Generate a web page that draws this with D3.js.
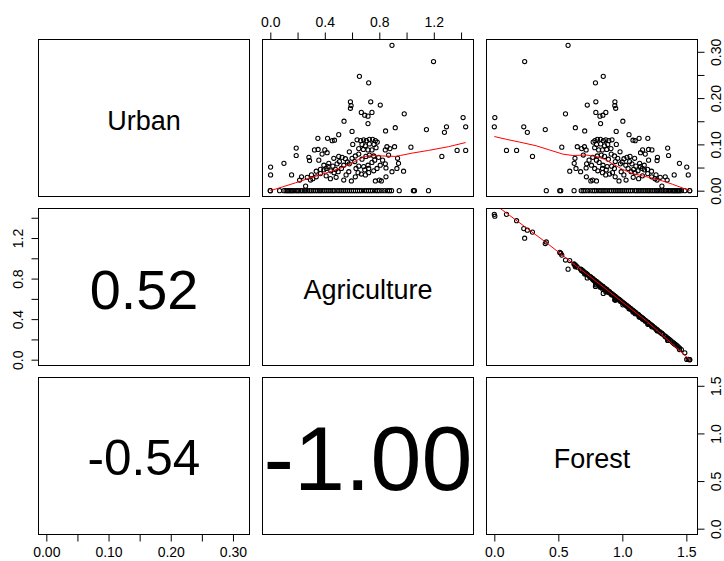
<!DOCTYPE html>
<html>
<head>
<meta charset="utf-8">
<script src="https://cdn.jsdelivr.net/npm/d3@7"></script>
<style>
  html, body { margin: 0; padding: 0; background: #fff; }
  svg { display: block; }
  text { font-family: "Liberation Sans", Arial, Helvetica, sans-serif; }
</style>
</head>
<body>
<svg id="chart" width="724" height="561"></svg>
<script>
// Land-use shares (arcsine-square-root transformed), one entry per site.
const variableNames = ["Urban", "Agriculture", "Forest"];

const urban = [
  0.314, 0.279, 0.247, 0.233, 0.192, 0.184, 0.178, 0.192, 0.185, 0.169,
  0.163, 0.161, 0.169, 0.150, 0.145, 0.166, 0.158, 0.138, 0.138, 0.126,
  0.132, 0.136, 0.129, 0.128, 0.121, 0.113, 0.113, 0.108, 0.109, 0.110,
  0.108, 0.110, 0.108, 0.111, 0.111, 0.108, 0.105, 0.100, 0.097, 0.101,
  0.100, 0.093, 0.091, 0.089, 0.088, 0.088, 0.100, 0.084, 0.095, 0.091,
  0.095, 0.077, 0.094, 0.087, 0.087, 0.074, 0.092, 0.076, 0.059, 0.051,
  0.034, 0.034, 0.072, 0.065, 0.088, 0.089, 0.079, 0.088, 0.082, 0.066,
  0.055, 0.048, 0.059, 0.053, 0.046, 0.070, 0.074, 0.072, 0.069, 0.062,
  0.058, 0.063, 0.055, 0.058, 0.043, 0.039, 0.041, 0.048, 0.070, 0.075,
  0.079, 0.063, 0.068, 0.074, 0.077, 0.075, 0.072, 0.066, 0.058, 0.055,
  0.048, 0.043, 0.039, 0.034, 0.036, 0.039, 0.030, 0.021, 0.023, 0.029,
  0.026, 0.032, 0.070, 0.048, 0.042, 0.059, 0.030, 0.021, 0.021, 0.023,
  0.010, 0.023, 0.030, 0.034, 0.026, 0.030, 0.023, 0.029, 0.037, 0.045,
  0.052, 0.042, 0.046, 0.052, 0.055, 0.061, 0.053, 0.041, 0.034, 0.088,
  0.049, 0.041, 0.066, 0.048, 0.048, 0.045,
  // sites without urban cover
  0, 0, 0, 0, 0, 0, 0, 0, 0, 0, 0, 0, 0, 0, 0, 0, 0, 0, 0, 0,
  0, 0, 0, 0, 0, 0, 0, 0, 0, 0, 0, 0, 0, 0, 0, 0, 0, 0, 0, 0,
  0, 0, 0, 0, 0, 0, 0, 0, 0, 0, 0, 0, 0, 0, 0, 0, 0, 0, 0, 0,
  0, 0, 0
];

const agriculture = [
  0.893, 1.198, 0.654, 0.722, 0.588, 0.593, 0.588, 0.737, 0.807, 0.668,
  0.693, 0.717, 0.746, 0.541, 0.717, 0.983, 1.415, 1.434, 1.293, 1.278,
  1.146, 0.917, 0.846, 0.600, 0.502, 0.349, 0.420, 0.454, 0.471, 0.637,
  0.663, 0.685, 0.705, 0.727, 0.751, 0.771, 0.785, 0.673, 0.698, 0.727,
  0.761, 0.776, 0.649, 0.683, 0.717, 0.746, 0.605, 0.580, 0.856, 0.878,
  0.912, 0.868, 1.032, 1.371, 1.434, 1.259, 0.190, 0.190, 0.100, 0.002,
  0.002, 0.156, 0.283, 0.288, 0.324, 0.351, 0.380, 0.400, 0.417, 0.356,
  0.393, 0.410, 0.429, 0.459, 0.478, 0.466, 0.502, 0.527, 0.551, 0.566,
  0.580, 0.507, 0.539, 0.490, 0.444, 0.468, 0.498, 0.522, 0.600, 0.624,
  0.649, 0.620, 0.673, 0.702, 0.727, 0.759, 0.795, 0.824, 0.844, 0.807,
  0.783, 0.759, 0.722, 0.698, 0.668, 0.644, 0.624, 0.595, 0.539, 0.483,
  0.441, 0.410, 0.934, 0.929, 0.978, 0.941, 0.849, 0.815, 0.771, 0.800,
  0.259, 0.215, 0.229, 0.302, 0.312, 0.337, 0.295, 0.271, 0.368, 0.393,
  0.424, 0.337, 0.368, 0.685, 0.717, 0.746, 0.649, 0.576, 0.556, 0.844,
  0.849, 0.893, 0.766, 0.722, 0.629, 0.693,
  0.000, 0.000, 0.068, 0.100, 0.115, 0.125, 0.135, 0.145, 0.155, 0.165,
  0.175, 0.190, 0.200, 0.210, 0.225, 0.235, 0.250, 0.260, 0.275, 0.290,
  0.300, 0.315, 0.330, 0.345, 0.360, 0.370, 0.385, 0.400, 0.415, 0.430,
  0.445, 0.460, 0.470, 0.490, 0.505, 0.520, 0.535, 0.550, 0.565, 0.580,
  0.595, 0.610, 0.625, 0.640, 0.655, 0.670, 0.690, 0.705, 0.720, 0.735,
  0.750, 0.770, 0.785, 0.800, 0.820, 0.840, 0.860, 0.875, 0.890, 0.946,
  1.050, 1.058, 1.161
];

const forest = [
  0.576, 0.237, 0.851, 0.790, 0.942, 0.941, 0.948, 0.793, 0.726, 0.871,
  0.848, 0.825, 0.793, 1.004, 0.830, 0.556, 0.004, 0.000, 0.230, 0.258,
  0.398, 0.633, 0.706, 0.952, 1.052, 1.199, 1.131, 1.100, 1.083, 0.919,
  0.894, 0.871, 0.852, 0.829, 0.805, 0.786, 0.772, 0.886, 0.861, 0.831,
  0.798, 0.784, 0.911, 0.878, 0.844, 0.815, 0.953, 0.982, 0.704, 0.682,
  0.648, 0.695, 0.527, 0.174, 0.095, 0.298, 1.354, 1.361, 1.446, 1.503,
  1.515, 1.405, 1.274, 1.271, 1.231, 1.205, 1.179, 1.158, 1.142, 1.205,
  1.171, 1.155, 1.135, 1.106, 1.088, 1.096, 1.060, 1.036, 1.013, 0.999,
  0.985, 1.057, 1.027, 1.075, 1.122, 1.099, 1.069, 1.045, 0.964, 0.939,
  0.913, 0.945, 0.891, 0.861, 0.836, 0.804, 0.769, 0.740, 0.721, 0.759,
  0.784, 0.808, 0.845, 0.870, 0.900, 0.923, 0.944, 0.974, 1.029, 1.085,
  1.127, 1.157, 0.630, 0.638, 0.589, 0.624, 0.719, 0.754, 0.798, 0.768,
  1.309, 1.350, 1.335, 1.263, 1.255, 1.229, 1.271, 1.296, 1.198, 1.172,
  1.141, 1.228, 1.197, 0.881, 0.849, 0.819, 0.917, 0.991, 1.012, 0.717,
  0.717, 0.674, 0.798, 0.845, 0.938, 0.874,
  1.526, 1.526, 1.488, 1.461, 1.447, 1.438, 1.429, 1.419, 1.409, 1.400,
  1.390, 1.376, 1.366, 1.356, 1.341, 1.332, 1.317, 1.307, 1.292, 1.277,
  1.268, 1.253, 1.238, 1.223, 1.208, 1.198, 1.183, 1.168, 1.153, 1.138,
  1.124, 1.109, 1.099, 1.079, 1.064, 1.049, 1.034, 1.019, 1.004, 0.989,
  0.974, 0.959, 0.944, 0.929, 0.914, 0.900, 0.880, 0.864, 0.849, 0.834,
  0.819, 0.799, 0.784, 0.769, 0.749, 0.729, 0.709, 0.694, 0.679, 0.623,
  0.519, 0.511, 0.406
];

// Pairwise correlations for the lower panels: (Urban,Agriculture), (Urban,Forest), (Agriculture,Forest)
const correlations = [0.52, -0.54, -1.00];

// Locally weighted smoothers for the upper panels, as [x, y] pairs
const smoothUrbanAgriculture = [ // x = Agriculture, y = Urban
  [0.000, 0.000], [0.088, 0.008], [0.185, 0.017], [0.307, 0.029], [0.429, 0.040],
  [0.527, 0.050], [0.600, 0.059], [0.649, 0.068], [0.698, 0.074], [0.746, 0.076],
  [0.820, 0.075], [0.917, 0.074], [0.954, 0.076], [1.039, 0.081], [1.161, 0.087],
  [1.307, 0.095], [1.434, 0.104]
];
const smoothUrbanForest = [ // x = Forest, y = Urban
  [0.000, 0.117], [0.093, 0.111], [0.197, 0.105], [0.327, 0.097], [0.431, 0.088],
  [0.535, 0.079], [0.613, 0.076], [0.717, 0.077], [0.794, 0.074], [0.859, 0.068],
  [0.924, 0.058], [1.002, 0.046], [1.080, 0.037], [1.158, 0.032], [1.236, 0.027],
  [1.314, 0.021], [1.391, 0.014], [1.469, 0.006], [1.526, 0.000]
];
const smoothAgricultureForest = [ // x = Forest, y = Agriculture
  [0.000, 1.535], [0.392, 1.168], [0.800, 0.768], [1.200, 0.370], [1.526, 0.000]
];

// Axis ticks: every tick is marked, only some carry labels
const urbanTicks = [0, 0.05, 0.10, 0.15, 0.20, 0.25, 0.30];
const urbanTickLabels = [0, 0.10, 0.20, 0.30];
const agricultureTicks = [0, 0.2, 0.4, 0.6, 0.8, 1.0, 1.2, 1.4];
const agricultureTickLabels = [0, 0.4, 0.8, 1.2];
const forestTicks = [0, 0.5, 1.0, 1.5];
const forestTickLabels = [0, 0.5, 1.0, 1.5];

// ---------------------------------------------------------------------------
const columns = [urban, agriculture, forest];
const tickSets = [urbanTicks, agricultureTicks, forestTicks];
const tickLabelSets = [urbanTickLabels, agricultureTickLabels, forestTickLabels];
const tickFormats = [d3.format(".2f"), d3.format(".1f"), d3.format(".1f")];

const svg = d3.select("#chart");
svg.append("rect").attr("width", 724).attr("height", 561).attr("fill", "#fff");

const colLeft = [38.5, 262.5, 486.5];
const rowTop = [39.5, 208.5, 377.5];
const panelW = 211, panelH = 157;
const n = variableNames.length;

// Data range stretched by 4% on each side
function paddedDomain(values) {
  const [lo, hi] = d3.extent(values);
  const e = (hi - lo) * 0.04;
  return [lo - e, hi + e];
}
const domains = columns.map(paddedDomain);
const xScales = domains.map((d, j) => d3.scaleLinear().domain(d).range([colLeft[j], colLeft[j] + panelW]));
const yScales = domains.map((d, i) => d3.scaleLinear().domain(d).range([rowTop[i] + panelH, rowTop[i]]));

const defs = svg.append("defs");
const smoothers = { "0-1": smoothUrbanAgriculture, "0-2": smoothUrbanForest, "1-2": smoothAgricultureForest };

let corrIndex = 0;
for (let i = 0; i < n; i++) {
  for (let j = 0; j < n; j++) {
    const g = svg.append("g");
    const cx = colLeft[j] + panelW / 2, cy = rowTop[i] + panelH / 2;
    if (i < j) {
      const clipId = `clip-${i}-${j}`;
      defs.append("clipPath").attr("id", clipId)
        .append("rect").attr("x", colLeft[j]).attr("y", rowTop[i]).attr("width", panelW).attr("height", panelH);
      const inner = g.append("g").attr("clip-path", `url(#${clipId})`);
      const xs = columns[j], ys = columns[i];
      const pts = d3.range(Math.min(xs.length, ys.length)).map(k => [xs[k], ys[k]]);
      inner.selectAll("circle").data(pts).join("circle")
        .attr("cx", d => xScales[j](d[0]))
        .attr("cy", d => yScales[i](d[1]))
        .attr("r", 2.1)
        .attr("fill", "none")
        .attr("stroke", "#000")
        .attr("stroke-width", 1.05);
      const line = d3.line().x(d => xScales[j](d[0])).y(d => yScales[i](d[1]));
      inner.append("path").datum(smoothers[`${i}-${j}`])
        .attr("d", line).attr("fill", "none").attr("stroke", "#ff0000").attr("stroke-width", 1);
    } else if (i === j) {
      g.append("text").attr("x", cx).attr("y", cy + 12)
        .attr("text-anchor", "middle").attr("font-size", 27).attr("fill", "#000")
        .text(variableNames[i]);
    } else {
      const r = correlations[corrIndex++];
      const t = g.append("text").attr("x", cx).attr("text-anchor", "middle")
        .attr("font-size", 100).attr("fill", "#000").text(r.toFixed(2));
      const w100 = t.node().getComputedTextLength();
      const fs = 100 * Math.abs(r) * panelW * 0.99 / w100;
      t.attr("font-size", fs).attr("y", cy + 0.36 * fs + 1.5);
    }
    g.append("rect").attr("x", colLeft[j]).attr("y", rowTop[i])
      .attr("width", panelW).attr("height", panelH)
      .attr("fill", "none").attr("stroke", "#000").attr("stroke-width", 1);
  }
}

// Axes alternate between sides, as in a scatterplot matrix
function styleAxis(g) {
  g.select(".domain").remove();
  g.selectAll(".tick line").attr("stroke", "#000");
  g.selectAll(".tick text").attr("font-size", 14).attr("fill", "#000")
    .attr("font-family", "'Liberation Sans', Arial, sans-serif");
}
function makeAxis(gen, k) {
  const labels = new Set(tickLabelSets[k].map(v => v.toFixed(3)));
  return gen.tickValues(tickSets[k]).tickSizeInner(7).tickSizeOuter(0)
    .tickFormat(v => labels.has(v.toFixed(3)) ? tickFormats[k](v) : "");
}

for (let k = 0; k < n; k++) {
  if (k % 2 === 1) {
    // top axis
    const g = svg.append("g").attr("transform", `translate(0,${rowTop[0]})`)
      .call(makeAxis(d3.axisTop(xScales[k]), k));
    styleAxis(g);
    g.selectAll(".tick text").attr("y", -12.8).attr("dy", null);
    // left axis
    const gl = svg.append("g").attr("transform", `translate(${colLeft[0]},0)`)
      .call(makeAxis(d3.axisLeft(yScales[k]), k));
    styleAxis(gl);
    gl.selectAll(".tick text").attr("x", 0).attr("y", -15.5).attr("dy", null)
      .attr("text-anchor", "middle").attr("transform", "rotate(-90)");
  } else {
    // bottom axis
    const g = svg.append("g").attr("transform", `translate(0,${rowTop[n - 1] + panelH})`)
      .call(makeAxis(d3.axisBottom(xScales[k]), k));
    styleAxis(g);
    g.selectAll(".tick text").attr("y", 22.5).attr("dy", null);
    // right axis
    const gr = svg.append("g").attr("transform", `translate(${colLeft[n - 1] + panelW},0)`)
      .call(makeAxis(d3.axisRight(yScales[k]), k));
    styleAxis(gr);
    gr.selectAll(".tick text").attr("x", 0).attr("y", 23).attr("dy", null)
      .attr("text-anchor", "middle").attr("transform", "rotate(-90)");
  }
}
</script>
</body>
</html>
